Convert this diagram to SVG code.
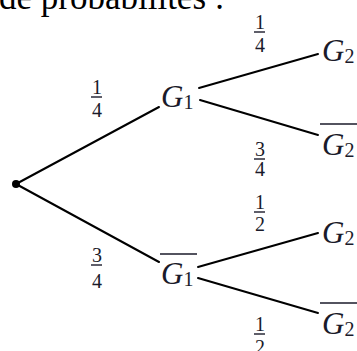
<svg xmlns="http://www.w3.org/2000/svg" width="357" height="351" viewBox="0 0 357 351">
<style>
.e{stroke:#000;stroke-width:2;fill:none;stroke-linecap:round}
.g{font-family:"Liberation Serif",serif;font-style:italic;font-size:31px;fill:#1a1a2a}
.s{font-style:normal;font-size:20px}
.f{font-family:"Liberation Serif",serif;font-size:20px;fill:#1a1a2a;text-anchor:middle}
.b{stroke:#1a1a2a;stroke-width:1.4}
.o{stroke:#1a1a2a;stroke-width:1.5}
.t{font-family:"Liberation Serif",serif;font-size:35px;fill:#000}
</style>
<text class="t" x="-1" y="9">de probabilités :</text>
<g id="connectors">
<line class="e" x1="16" y1="184" x2="159" y2="107"/>
<line class="e" x1="16" y1="184" x2="159" y2="262"/>
<line class="e" x1="199" y1="88" x2="318" y2="54"/>
<line class="e" x1="200" y1="100" x2="318" y2="135"/>
<line class="e" x1="198" y1="267" x2="318" y2="233"/>
<line class="e" x1="198" y1="278" x2="318" y2="313"/>
</g>
<g id="labels">
<text class="f" x="97" y="94">1</text><line class="b" x1="91" y1="97" x2="102" y2="97"/><text class="f" x="97" y="117">4</text>
<text class="f" x="97" y="262">3</text><line class="b" x1="91" y1="265" x2="102" y2="265"/><text class="f" x="97" y="288">4</text>
<text class="f" x="260" y="29">1</text><line class="b" x1="254" y1="32" x2="265" y2="32"/><text class="f" x="260" y="52">4</text>
<text class="f" x="260" y="156">3</text><line class="b" x1="254" y1="159" x2="265" y2="159"/><text class="f" x="260" y="176">4</text>
<text class="f" x="260" y="209">1</text><line class="b" x1="254" y1="212" x2="265" y2="212"/><text class="f" x="260" y="231">2</text>
<text class="f" x="260" y="331">1</text><line class="b" x1="254" y1="334" x2="265" y2="334"/><text class="f" x="260" y="354">2</text>
</g>
<g id="root"><circle cx="16" cy="184" r="4" fill="#000"/></g>
<g id="G1"><text class="g" x="161" y="107">G<tspan class="s" dy="2">1</tspan></text></g>
<g id="G1bar"><line class="o" x1="160" y1="254" x2="197" y2="254"/><text class="g" x="161" y="284">G<tspan class="s" dy="2">1</tspan></text></g>
<g id="G2a"><text class="g" x="322" y="61">G<tspan class="s" dy="2">2</tspan></text></g>
<g id="G2abar"><line class="o" x1="320" y1="124" x2="357" y2="124"/><text class="g" x="322" y="155">G<tspan class="s" dy="2">2</tspan></text></g>
<g id="G2b"><text class="g" x="322" y="243">G<tspan class="s" dy="2">2</tspan></text></g>
<g id="G2bbar"><line class="o" x1="320" y1="303" x2="357" y2="303"/><text class="g" x="322" y="334">G<tspan class="s" dy="2">2</tspan></text></g>
</svg>
